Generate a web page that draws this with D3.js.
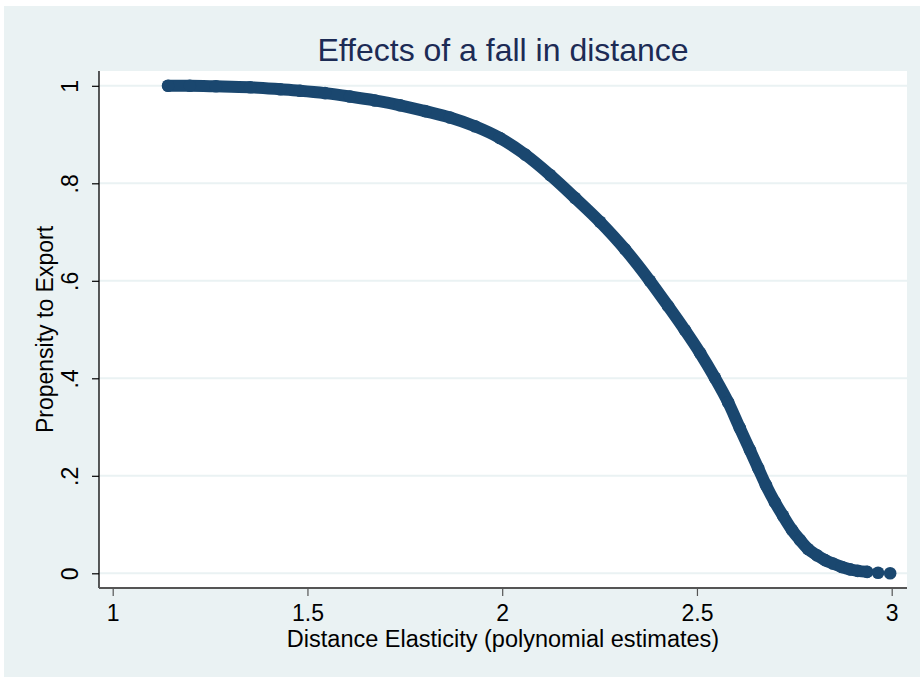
<!DOCTYPE html>
<html>
<head>
<meta charset="utf-8">
<script src="https://cdn.jsdelivr.net/npm/d3@7"></script>
<style>
  html, body { margin: 0; padding: 0; background: #ffffff; }
  svg { display: block; }
  text { font-family: "Liberation Sans", Arial, sans-serif; }
</style>
</head>
<body>
<svg id="chart" width="920" height="677"></svg>
<script>
// Distance elasticity (x) against propensity to export (y)
const elasticity = [1.142, 1.198, 1.265, 1.353, 1.430, 1.481, 1.545, 1.609, 1.673, 1.738,
  1.802, 1.866, 1.930, 1.994, 2.059, 2.123, 2.187, 2.251, 2.315, 2.379,
  2.426, 2.469, 2.508, 2.546, 2.580, 2.610, 2.636, 2.657, 2.677, 2.700,
  2.721, 2.744, 2.765, 2.785, 2.808, 2.829, 2.849, 2.872, 2.893, 2.913,
  2.937, 2.965, 2.996];
const propensity = [1.000, 1.000, 0.999, 0.997, 0.993, 0.990, 0.985, 0.978, 0.970, 0.960,
  0.948, 0.935, 0.917, 0.893, 0.859, 0.817, 0.770, 0.721, 0.665, 0.600,
  0.548, 0.499, 0.452, 0.401, 0.351, 0.298, 0.253, 0.216, 0.181, 0.146,
  0.118, 0.089, 0.068, 0.050, 0.037, 0.027, 0.020, 0.013, 0.008, 0.005,
  0.003, 0.001, 0.000];

const xTicks = [1, 1.5, 2, 2.5, 3];
const xTickLabels = ["1", "1.5", "2", "2.5", "3"];
const yTicks = [0, 0.2, 0.4, 0.6, 0.8, 1];
const yTickLabels = ["0", ".2", ".4", ".6", ".8", "1"];

const titleText = "Effects of a fall in distance";
const xTitle = "Distance Elasticity (polynomial estimates)";
const yTitle = "Propensity to Export";

const points = elasticity.map((v, i) => ({ x: v, y: propensity[i] }));
// observations are packed densely up to here; beyond it they thin out
const denseUntil = 2.94;

const svg = d3.select("#chart");
const W = 920, H = 677;
const plot = { left: 99, right: 907, top: 71, bottom: 588 };

const bgColor = "#eaf2f3";
const markColor = "#1a476f";

// graph region
svg.append("rect").attr("x", 4).attr("y", 6).attr("width", W - 4).attr("height", H - 6)
  .attr("fill", bgColor);
// plot region
svg.append("rect").attr("x", plot.left).attr("y", plot.top)
  .attr("width", plot.right - plot.left).attr("height", plot.bottom - plot.top)
  .attr("fill", "#ffffff");

const x = d3.scaleLinear().domain([1, 3]).range([112.7, 891.7]);
const y = d3.scaleLinear().domain([0, 1]).range([573.3, 85.8]);

// horizontal grid lines
svg.append("g").selectAll("line").data(yTicks).join("line")
  .attr("x1", plot.left).attr("x2", plot.right)
  .attr("y1", d => y(d)).attr("y2", d => y(d))
  .attr("stroke", bgColor).attr("stroke-width", 2);

// y axis
const yAxis = d3.axisLeft(y).tickValues(yTicks)
  .tickFormat((d, i) => yTickLabels[i]).tickSize(7).tickPadding(12);
const gy = svg.append("g").attr("transform", `translate(${plot.left},0)`).call(yAxis);
gy.select(".domain").remove();
gy.append("line").attr("x1", 0).attr("x2", 0).attr("y1", plot.top).attr("y2", plot.bottom)
  .attr("stroke", "#000000").attr("stroke-width", 1.3);
gy.selectAll(".tick line").attr("stroke", "#000000").attr("stroke-width", 1.2);
gy.selectAll(".tick text")
  .attr("font-size", 23).attr("fill", "#000000")
  .attr("text-anchor", "middle").attr("dy", null)
  .attr("x", null).attr("y", null)
  .attr("transform", "translate(-21,0) rotate(-90)");

// x axis
const xAxis = d3.axisBottom(x).tickValues(xTicks)
  .tickFormat((d, i) => xTickLabels[i]).tickSize(8).tickPadding(10);
const gx = svg.append("g").attr("transform", `translate(0,${plot.bottom})`).call(xAxis);
gx.select(".domain").remove();
gx.append("line").attr("x1", plot.left).attr("x2", plot.right).attr("y1", 0).attr("y2", 0)
  .attr("stroke", "#555555").attr("stroke-width", 2);
gx.selectAll(".tick line").attr("stroke", "#555555").attr("stroke-width", 1.2);
gx.selectAll(".tick text").attr("font-size", 23).attr("fill", "#000000")
  .attr("dy", null).attr("y", 33);

// dense scatter: a solid band where markers overlap, then the individual markers
const band = d3.line().x(d => x(d.x)).y(d => y(d.y)).curve(d3.curveMonotoneX);
svg.append("path").datum(points.filter(d => d.x <= denseUntil)).attr("d", band)
  .attr("fill", "none").attr("stroke", markColor)
  .attr("stroke-width", 12).attr("stroke-linecap", "round").attr("stroke-linejoin", "round");
svg.append("g").selectAll("circle").data(points).join("circle")
  .attr("cx", d => x(d.x)).attr("cy", d => y(d.y)).attr("r", 6.3)
  .attr("fill", markColor);

// titles
svg.append("text").attr("x", (plot.left + plot.right) / 2).attr("y", 61)
  .attr("text-anchor", "middle").attr("font-size", 32).attr("fill", "#1c2b55")
  .text(titleText);
svg.append("text").attr("x", (plot.left + plot.right) / 2).attr("y", 647)
  .attr("text-anchor", "middle").attr("font-size", 23.5).attr("fill", "#000000")
  .text(xTitle);
svg.append("text")
  .attr("transform", `translate(53,${(plot.top + plot.bottom) / 2}) rotate(-90)`)
  .attr("text-anchor", "middle").attr("font-size", 23).attr("fill", "#000000")
  .text(yTitle);
</script>
</body>
</html>
